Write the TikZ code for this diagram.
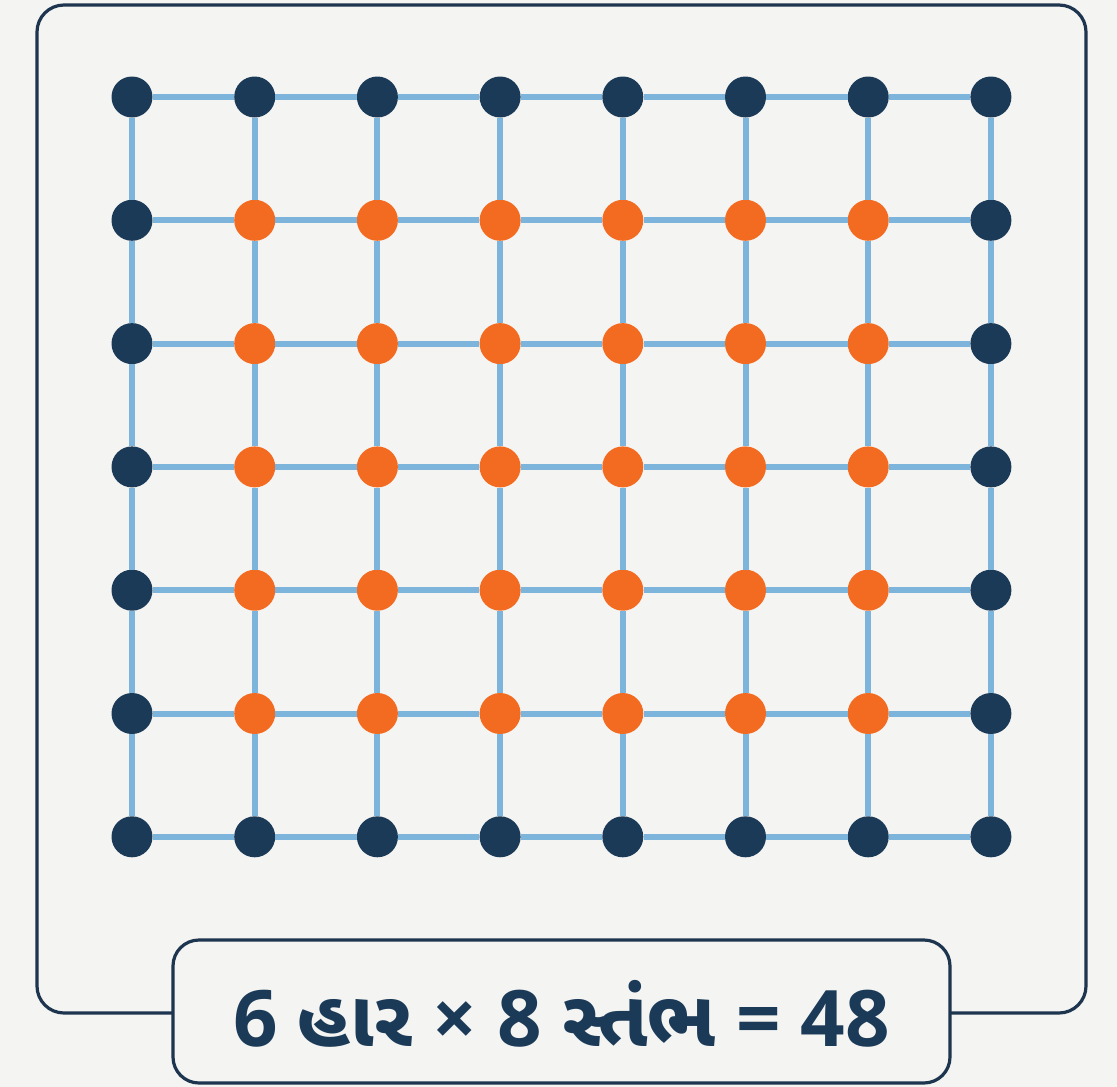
\documentclass[tikz,border=0pt]{standalone}
\usepackage{fontspec}
\setmainfont{Open Sans}
\newfontfamily\gujfont[Script=Gujarati]{Noto Sans Gujarati UI}
\definecolor{bgc}{HTML}{F4F4F2}
\definecolor{navy}{HTML}{1B3A57}
\definecolor{framec}{HTML}{1E3550}
\definecolor{orng}{HTML}{F36A21}
\definecolor{gridblue}{HTML}{7CB4DC}
\begin{document}
\begin{tikzpicture}[x=1pt,y=-1pt,
  darkdot/.style={circle,fill=navy,minimum size=41pt,inner sep=0pt},
  orangedot/.style={circle,fill=orng,minimum size=41pt,inner sep=0pt},
  gridline/.style={draw=gridblue,line width=6pt},
  framebox/.style={draw=framec,line width=3.2pt,rounded corners=27pt,inner sep=0pt},
  labeltext/.style={font=\fontsize{78}{94}\selectfont\bfseries,text=navy,inner sep=0pt}]
\fill[bgc] (0,0) rectangle (1117,1087);
\useasboundingbox (0,0) rectangle (1117,1087);
% outer frame
\node[framebox,minimum width=1049pt,minimum height=1008pt] (frame) at (561.5,509) {};
% grid dots
\foreach \i in {0,...,7}{
  \foreach \j in {0,...,6}{
    \pgfmathsetmacro{\xx}{132+122.7*\i}
    \pgfmathsetmacro{\yy}{97+123.3*\j}
    \ifnum\i=0 \def\st{darkdot}\else\ifnum\i=7 \def\st{darkdot}\else
      \ifnum\j=0 \def\st{darkdot}\else\ifnum\j=6 \def\st{darkdot}\else\def\st{orangedot}\fi\fi\fi\fi
    \node[\st] (d-\i-\j) at (\xx,\yy) {};
  }
}
% grid lines
\foreach \i in {0,...,6}{
  \pgfmathtruncatemacro{\ni}{\i+1}
  \foreach \j in {0,...,6}{
    \draw[gridline] (d-\i-\j) -- (d-\ni-\j);
  }
}
\foreach \i in {0,...,7}{
  \foreach \j in {0,...,5}{
    \pgfmathtruncatemacro{\nj}{\j+1}
    \draw[gridline] (d-\i-\j) -- (d-\i-\nj);
  }
}
% label box
\node[framebox,fill=bgc,rounded corners=26pt,minimum width=777pt,minimum height=143pt] (labelbox) at (561.5,1011.5) {};
\node[labeltext,anchor=base] (labeltxt) at (561.5,1046) {6 {\gujfont હાર} × 8 {\gujfont સ્તંભ} = 48};
\end{tikzpicture}
\end{document}
